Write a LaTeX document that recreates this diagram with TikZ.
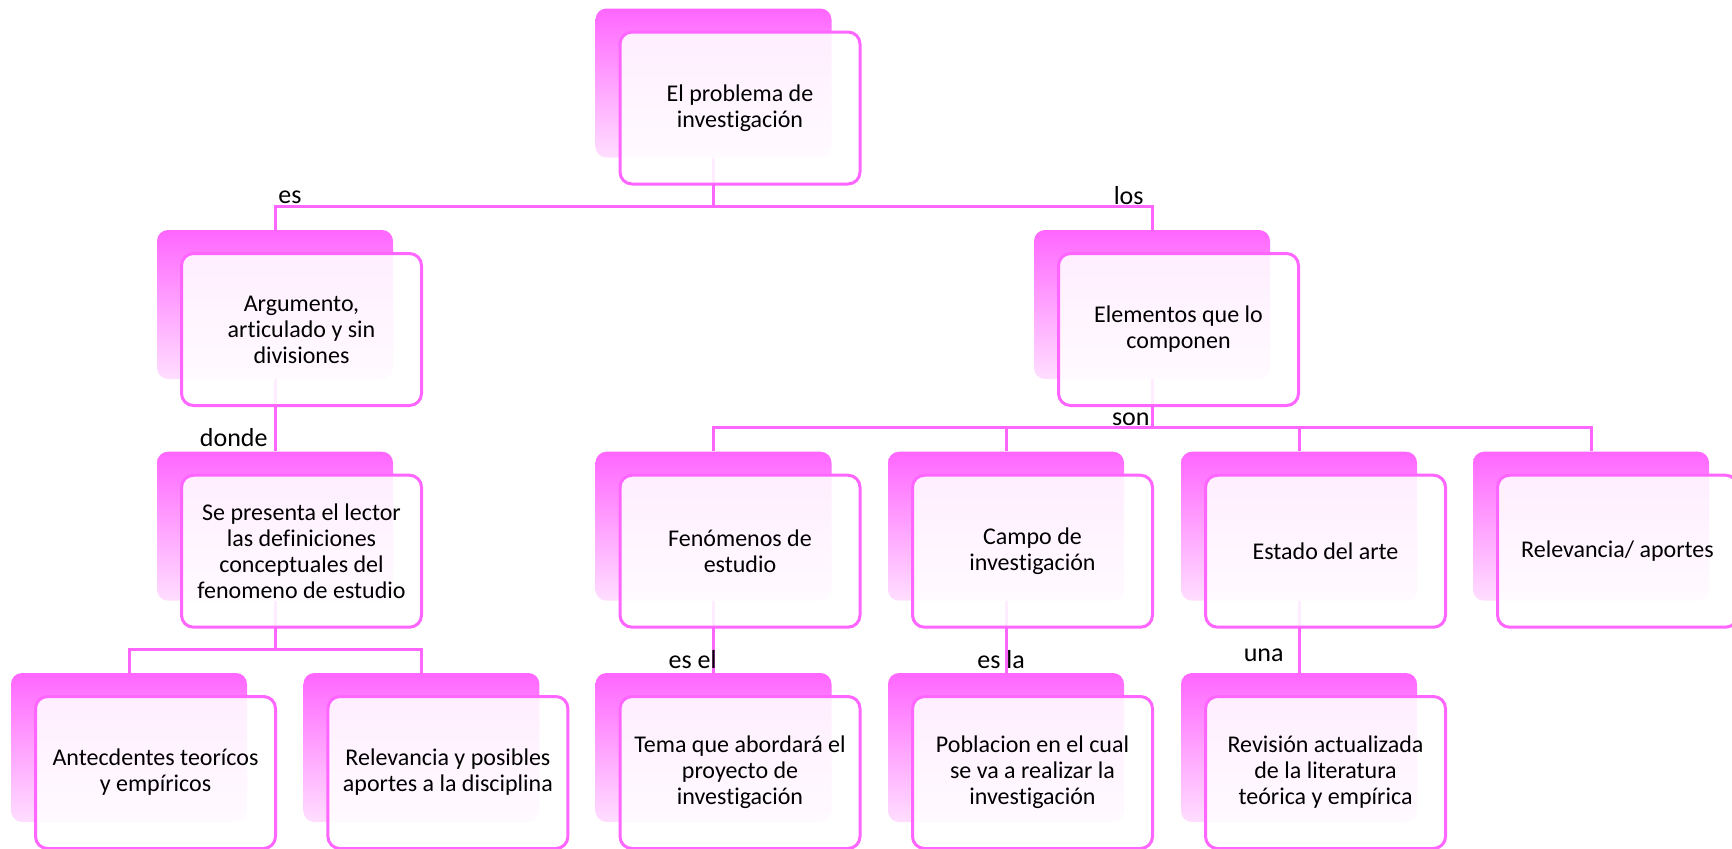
\documentclass[tikz,border=0pt]{standalone}
\usepackage{fontspec}
\setmainfont{Carlito}[Ligatures={NoCommon,NoContextual,NoRare},Contextuals=NoAlternate]
\definecolor{mag}{RGB}{255,102,255}
\definecolor{pale}{RGB}{255,222,255}
\tikzset{
 backbox/.style={rectangle, rounded corners=5.5pt, minimum width=118pt, minimum height=74.5pt, inner sep=0pt, top color=mag, bottom color=pale, draw=none},
 frontbox/.style={rectangle, rounded corners=6pt, minimum width=120pt, minimum height=76pt, inner sep=0pt, draw=mag, line width=1.5pt, fill=white, fill opacity=0.88, text opacity=1, align=center, font=\fontsize{12}{13}\selectfont},
 conn/.style={draw=mag, line width=1.5pt},
 lbl/.style={inner sep=0pt, font=\fontsize{13}{15}\selectfont},
}
\newcommand\mmback[3]{\node[backbox] (#1b) at ({#2+118},{#3+74.5}) {};}
\newcommand\mmfront[4]{\node[frontbox] (#1) at ({#2+144.5},{#3+99.5}) {#4};}
\begin{document}
\begin{tikzpicture}[x=0.5pt,y=-0.5pt]
\useasboundingbox (0,0) rectangle (1732,848);
% back boxes
\mmback{top}{595.5}{8.5}
\mmback{arg}{157}{230}
\mmback{elem}{1034}{230}
\mmback{pres}{157}{451.7}
\mmback{fen}{595.5}{451.7}
\mmback{campo}{888}{451.7}
\mmback{estado}{1181}{451.7}
\mmback{relev}{1473}{451.7}
\mmback{antec}{11}{673}
\mmback{posib}{303.4}{673}
\mmback{tema}{595.5}{673}
\mmback{pobl}{888}{673}
\mmback{revis}{1181}{673}
% connectors
\draw[conn] (topb.south) -- ++(0,48.5) -| (argb.north);
\draw[conn] (topb.south) -- ++(0,48.5) -| (elemb.north);
\draw[conn] (argb.south) -- (presb.north);
\draw[conn] (presb.south) -- ++(0,48.6) -| (antecb.north);
\draw[conn] (presb.south) -- ++(0,48.6) -| (posibb.north);
\draw[conn] (elemb.south) -- ++(0,48.3) -| (fenb.north);
\draw[conn] (elemb.south) -- ++(0,48.3) -| (campob.north);
\draw[conn] (elemb.south) -- ++(0,48.3) -| (estadob.north);
\draw[conn] (elemb.south) -- ++(0,48.3) -| (relevb.north);
\draw[conn] (fenb.south) -- (temab.north);
\draw[conn] (campob.south) -- (poblb.north);
\draw[conn] (estadob.south) -- (revisb.north);
% front boxes
\mmfront{top}{595.5}{8.5}{El problema de\\investigación}
\mmfront{arg}{157}{230}{Argumento,\\articulado y sin\\divisiones}
\mmfront{elem}{1034}{230}{Elementos que lo\\componen}
\mmfront{pres}{157}{451.7}{Se presenta el lector\\las definiciones\\conceptuales del\\fenomeno de estudio}
\mmfront{fen}{595.5}{451.7}{Fenómenos de\\estudio}
\mmfront{campo}{888}{451.7}{Campo de\\investigación}
\mmfront{estado}{1181}{451.7}{Estado del arte}
\mmfront{relev}{1473}{451.7}{Relevancia/ aportes}
\mmfront{antec}{11}{673}{Antecdentes teorícos\\y empíricos}
\mmfront{posib}{303.4}{673}{Relevancia y posibles\\aportes a la disciplina}
\mmfront{tema}{595.5}{673}{Tema que abordará el\\proyecto de\\investigación}
\mmfront{pobl}{888}{673}{Poblacion en el cual\\se va a realizar la\\investigación}
\mmfront{revis}{1181}{673}{Revisión actualizada\\de la literatura\\teórica y empírica}
% labels
\node[lbl, anchor=base west] (l1) at (278,203) {es};
\node[lbl, anchor=base east] (l2) at (1144,204) {los};
\node[lbl, anchor=base east] (l3) at (268,446.5) {donde};
\node[lbl, anchor=base east] (l4) at (1150,425) {son};
\node[lbl, anchor=base east] (l5) at (717,668) {es el};
\node[lbl, anchor=base west] (l6) at (977,668) {es la};
\node[lbl, anchor=base east] (l7) at (1284,661) {una};
\end{tikzpicture}
\end{document}
